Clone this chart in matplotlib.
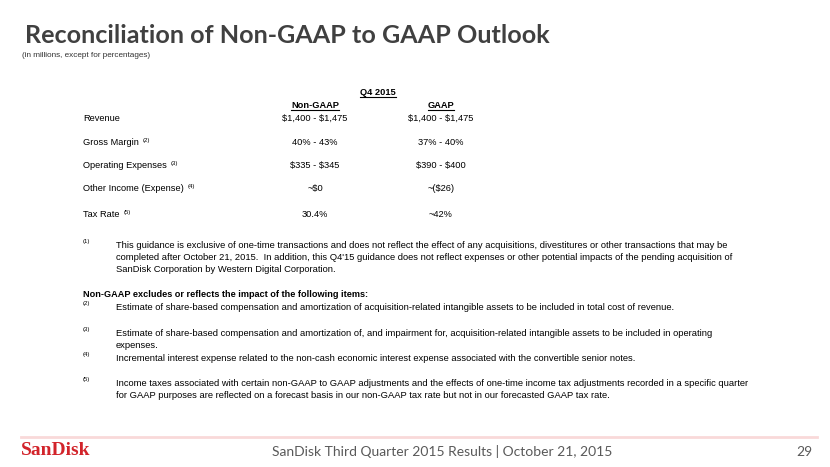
import matplotlib
matplotlib.use("Agg")
import matplotlib.pyplot as plt
from matplotlib.lines import Line2D

# ---------------- data ----------------
title = "Reconciliation of Non-GAAP to GAAP Outlook"
subtitle = "(in millions, except for percentages)"
period = "Q4 2015"
columns = ["Non-GAAP", "GAAP"]
row_labels = ["Revenue", "Gross Margin", "Operating Expenses",
              "Other Income (Expense)", "Tax Rate"]
row_notes = ["", "(2)", "(3)", "(4)", "(5)"]
non_gaap = ["$1,400 - $1,475", "40% - 43%", "$335 - $345", "~$0", "30.4%"]
gaap = ["$1,400 - $1,475", "37% - 40%", "$390 - $400", "~($26)", "~42%"]

note1_marker = "(1)"
note1_lines = [
    "This guidance is exclusive of one-time transactions and does not reflect the effect of any acquisitions, divestitures or other transactions that may be",
    "completed after October 21, 2015.  In addition, this Q4'15 guidance does not reflect expenses or other potential impacts of the pending acquisition of",
    "SanDisk Corporation by Western Digital Corporation.",
]
items_heading = "Non-GAAP excludes or reflects the impact of the following items:"
item_markers = ["(2)", "(3)", "(4)", "(5)"]
item_lines = [
    ["Estimate of share-based compensation and amortization of acquisition-related intangible assets to be included in total cost of revenue."],
    ["Estimate of share-based compensation and amortization of, and impairment for, acquisition-related intangible assets to be included in operating",
     "expenses."],
    ["Incremental interest expense related to the non-cash economic interest expense associated with the convertible senior notes."],
    ["Income taxes associated with certain non-GAAP to GAAP adjustments and the effects of one-time income tax adjustments recorded in a specific quarter",
     "for GAAP purposes are reflected on a forecast basis in our non-GAAP tax rate but not in our forecasted GAAP tax rate."],
]
footer_text = "SanDisk Third Quarter 2015 Results | October 21, 2015"
logo_text = "SanDisk"
page_number = "29"

# ---------------- layout ----------------
W, H = 830, 467
fig = plt.figure(figsize=(W / 100, H / 100), dpi=100)
fig.patch.set_facecolor("white")

SANS = "Liberation Sans"
TITLEF = "Lato"
FOOTF = "Lato"


def P(x, y):
    return (x / W, 1 - y / H)


def txt(x, y, s, **kw):
    kw.setdefault("va", "baseline")
    kw.setdefault("ha", "left")
    kw.setdefault("parse_math", False)
    return fig.text(*P(x, y), s, **kw)


renderer = fig.canvas.get_renderer()


def extent_x(t):
    bb = t.get_window_extent(renderer)
    return bb.x0, bb.x1


def underline(t, y, lw=0.8, color="black"):
    x0, x1 = extent_x(t)
    yy = 1 - y / H
    fig.add_artist(Line2D([x0 / W, x1 / W], [yy, yy], transform=fig.transFigure,
                          color=color, lw=lw))


# title
txt(25, 43, title, fontsize=18.05, fontweight="bold", color="#404040", family=TITLEF)
txt(22, 57, subtitle, fontsize=5.9, color="#333333", family=SANS)

# table
FS = 6.7
col_x = [315, 441]
t = txt(sum(col_x) / 2, 95, period, fontsize=FS, fontweight="bold", ha="center", family=SANS)
underline(t, 97)
for cx, c in zip(col_x, columns):
    t = txt(cx, 108, c, fontsize=FS, fontweight="bold", ha="center", family=SANS)
    underline(t, 110)

row_y = [121, 145, 168, 191, 217]
for y, lab, note, a, b in zip(row_y, row_labels, row_notes, non_gaap, gaap):
    t = txt(83, y, lab, fontsize=FS, family=SANS)
    if note:
        x0, x1 = extent_x(t)
        fig.text((x1 + 4) / W, 1 - (y - 3) / H, note, fontsize=4.3, family=SANS,
                 va="baseline", ha="left")
    txt(col_x[0], y, a, fontsize=FS, ha="center", family=SANS)
    txt(col_x[1], y, b, fontsize=FS, ha="center", family=SANS)

# footnotes
NFS = 6.75
MFS = 4.3
txt(83, 243, note1_marker, fontsize=MFS, family=SANS)
for i, line in enumerate(note1_lines):
    txt(116, 248 + 12 * i, line, fontsize=NFS, family=SANS)

txt(83, 297, items_heading, fontsize=6.6, fontweight="bold", family=SANS)

item_y = [310, 336, 361, 386]
for y, m, lines in zip(item_y, item_markers, item_lines):
    txt(83, y - 5, m, fontsize=MFS, family=SANS)
    for i, line in enumerate(lines):
        txt(116, y + 12 * i, line, fontsize=NFS, family=SANS)

# footer
fig.add_artist(Line2D([21 / W, 817 / W], [1 - 437 / H] * 2, transform=fig.transFigure,
                      color="#f9d9d9", lw=2))
txt(21, 455, logo_text, fontsize=14, fontweight="bold", color="#d2232a", family="Liberation Serif")
txt(442, 456, footer_text, fontsize=10, color="#595959", family=FOOTF, ha="center")
txt(812, 456, page_number, fontsize=10, color="#595959", family=FOOTF, ha="right")

fig.savefig("out.png", dpi=100, facecolor="white")
